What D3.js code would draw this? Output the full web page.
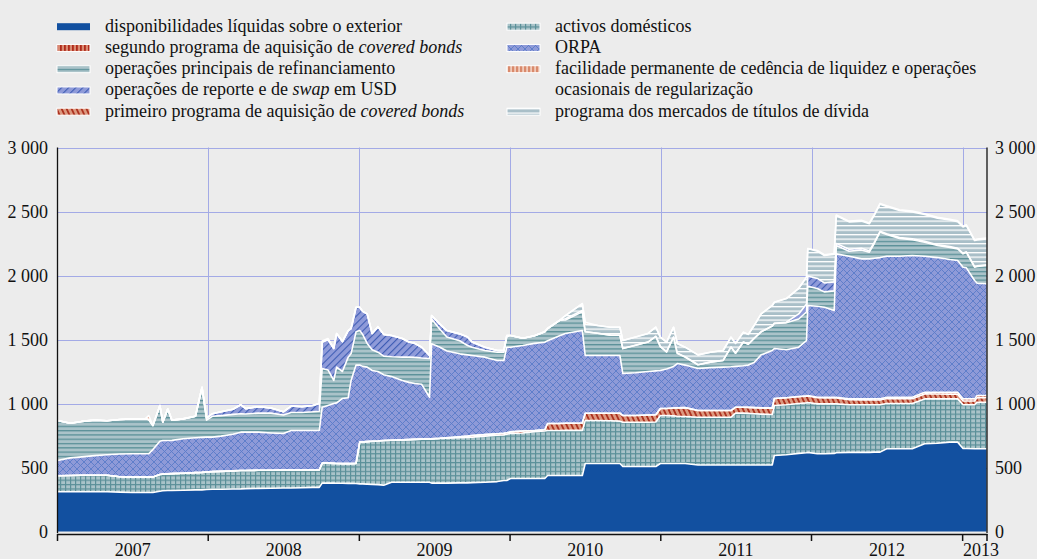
<!DOCTYPE html>
<html><head><meta charset="utf-8">
<script src="https://cdn.jsdelivr.net/npm/d3@7"></script>
<style>
body{margin:0;background:#ececec;}
svg{display:block;font-family:"Liberation Serif","Times New Roman",serif;}
</style></head><body>
<svg id="c" width="1037" height="559">
<defs>
<pattern id="pDom" width="5" height="4.4" patternUnits="userSpaceOnUse">
 <rect width="5" height="4.4" fill="#a9c3c9"/>
 <rect width="5" height="1.2" fill="#5b9099"/>
 <rect width="1.2" height="4.4" fill="#5b9099"/>
</pattern>
<pattern id="pOrpa" width="7" height="7" patternUnits="userSpaceOnUse">
 <rect width="7" height="7" fill="#8e9ad8"/>
 <path d="M0,0L7,7M7,0L0,7" stroke="#5a7bc8" stroke-width="0.9"/>
</pattern>
<pattern id="pMro" width="8" height="4.3" patternUnits="userSpaceOnUse">
 <rect width="8" height="4.3" fill="#aac3c9"/>
 <rect width="8" height="1.3" fill="#5a9098"/>
</pattern>
<pattern id="pSmp" width="8" height="4.5" patternUnits="userSpaceOnUse">
 <rect width="8" height="4.5" fill="#a9bfc8"/>
 <rect width="8" height="1.3" fill="#ffffff"/>
</pattern>
<pattern id="pUsd" width="5" height="5" patternUnits="userSpaceOnUse" patternTransform="rotate(45)">
 <rect width="5" height="5" fill="#8f9bd9"/>
 <rect width="1.1" height="5" fill="#3d5cb4"/>
</pattern>
<pattern id="pCb1" width="4.5" height="4.5" patternUnits="userSpaceOnUse" patternTransform="rotate(-25)">
 <rect width="4.5" height="4.5" fill="#dc987f"/>
 <rect width="1.8" height="4.5" fill="#ad3220"/>
</pattern>
<pattern id="pCb2" width="4" height="4" patternUnits="userSpaceOnUse">
 <rect width="4" height="4" fill="#d98a72"/>
 <rect width="1.8" height="4" fill="#b02a1a"/>
</pattern>
<pattern id="pMlf" width="4" height="4" patternUnits="userSpaceOnUse">
 <rect width="4" height="4" fill="#f0cbbb"/>
 <rect width="2.2" height="4" fill="#d98a6c"/>
</pattern>
<clipPath id="plotClip"><rect x="57.5" y="140" width="929.5" height="392"/></clipPath>
</defs>
</svg>
<script>
// ---------- data (EUR bn) ----------
const dates = ["2007-01-01","2007-02-01","2007-03-01","2007-04-01","2007-05-01","2007-06-01","2007-07-01","2007-08-01","2007-08-10","2007-08-20","2007-09-06","2007-09-13","2007-09-25","2007-10-05","2007-11-01","2007-12-01","2007-12-17","2007-12-28",
"2008-01-11","2008-02-01","2008-03-01","2008-03-20","2008-04-01","2008-05-01","2008-06-01","2008-07-01","2008-07-20","2008-08-15","2008-09-10","2008-09-26","2008-10-03","2008-10-17","2008-10-31","2008-11-07","2008-11-21","2008-12-05","2008-12-12","2008-12-24",
"2009-01-02","2009-01-09","2009-01-20","2009-02-01","2009-02-15","2009-03-01","2009-03-20","2009-04-15","2009-05-01","2009-05-15","2009-06-01","2009-06-20","2009-06-25","2009-07-15","2009-08-01","2009-09-01","2009-09-20","2009-10-01","2009-11-01","2009-12-01","2009-12-17","2009-12-24",
"2010-01-02","2010-02-01","2010-03-01","2010-03-26","2010-04-02","2010-05-01","2010-05-15","2010-06-25","2010-07-02","2010-08-01","2010-09-01","2010-09-24","2010-10-01","2010-11-01","2010-12-01","2010-12-20","2010-12-31",
"2011-01-15","2011-02-01","2011-02-10","2011-03-01","2011-04-01","2011-05-01","2011-06-01","2011-06-20","2011-07-01","2011-07-20","2011-08-01","2011-08-15","2011-09-01","2011-09-28","2011-10-03","2011-11-01","2011-12-01","2011-12-20","2011-12-23",
"2012-01-15","2012-02-01","2012-02-25","2012-03-01","2012-04-01","2012-05-01","2012-05-20","2012-06-01","2012-06-15","2012-07-01","2012-08-01","2012-09-01","2012-10-01","2012-11-01","2012-12-01","2012-12-20","2013-01-02","2013-01-10","2013-01-30","2013-02-05","2013-02-28"];

const liquidForeign = [310,310,310,310,310,308,305,305,305,305,315,318,320,320,322,325,325,328,
330,330,332,333,335,337,338,340,340,342,345,345,378,378,378,377,377,376,376,375,
372,372,370,368,366,362,385,385,385,385,385,385,378,378,378,380,380,382,385,390,398,398,
414,414,414,414,437,437,437,437,531,531,531,531,508,508,508,508,531,
531,531,531,531,520,520,520,520,520,520,520,520,520,520,594,600,610,615,618,
607,607,610,615,618,618,618,620,620,646,646,646,685,690,698,698,648,648,646,646,646];

const domesticAssets = [125,128,130,130,130,120,120,120,120,120,130,130,130,132,133,135,137,137,
138,140,142,143,142,141,140,140,140,138,135,135,156,156,154,154,153,154,154,157,
326,328,332,337,341,349,328,331,333,335,337,339,346,348,350,353,355,355,360,362,357,362,
352,356,366,371,352,352,353,353,336,336,334,331,346,346,346,348,375,
375,372,369,367,373,373,373,373,405,405,403,400,397,394,390,390,390,390,390,
390,390,387,382,372,372,372,370,370,354,354,354,351,346,338,338,342,342,344,364,364];

const coveredBonds1 = [0,0,0,0,0,0,0,0,0,0,0,0,0,0,0,0,0,0,
0,0,0,0,0,0,0,0,0,0,0,0,0,0,0,0,0,0,0,0,
0,0,0,0,0,0,0,0,0,0,0,0,0,2,5,7,10,13,12,12,13,12,
12,15,9,10,55,55,56,58,57,57,59,62,52,52,56,56,55,
55,62,66,70,52,52,52,52,46,46,47,48,49,50,55,55,53,52,51,
48,47,47,46,39,38,38,37,37,39,38,37,39,38,37,37,30,30,30,36,36];

const coveredBonds2 = [0,0,0,0,0,0,0,0,0,0,0,0,0,0,0,0,0,0,
0,0,0,0,0,0,0,0,0,0,0,0,0,0,0,0,0,0,0,0,
0,0,0,0,0,0,0,0,0,0,0,0,0,0,0,0,0,0,0,0,0,0,
0,0,0,0,0,0,0,0,0,0,0,0,0,0,0,0,0,
0,0,0,0,0,0,0,0,0,0,0,0,0,0,0,0,2,3,3,
4,5,5,6,7,8,8,9,9,10,11,12,13,14,15,15,16,16,16,16,16];

const ltro = [120,137,143,153,160,177,182,182,182,215,260,263,261,260,270,273,273,272,
269,275,286,300,299,298,292,286,309,309,309,309,437,451,468,474,509,515,650,768,
602,590,582,553,543,514,497,464,447,436,428,325,742,712,677,648,635,625,605,572,568,668,
662,668,681,684,646,686,701,722,451,451,451,451,328,334,340,343,297,
309,325,346,332,328,335,339,342,319,324,330,352,414,450,391,375,385,432,704,
711,703,678,1120,1114,1094,1094,1099,1104,1101,1101,1107,1062,1052,1037,1029,1029,1024,925,878,873];

const mro = [312,271,277,277,265,270,273,273,268,188,279,143,247,158,155,167,392,133,
163,160,155,144,142,149,155,144,141,141,146,151,302,277,180,279,211,317,210,260,
270,250,185,162,151,145,155,182,197,204,205,303,194,140,110,102,73,65,52,65,65,81,
91,57,60,81,96,120,105,146,185,174,159,158,195,215,230,269,186,
133,229,80,63,30,43,53,154,103,185,163,189,180,192,196,210,220,225,150,
138,120,153,65,40,70,52,115,198,170,140,124,110,94,95,91,104,120,104,130,143];

const usdOperations = [0,0,0,0,0,0,0,0,0,0,0,0,0,0,0,0,0,15,
20,30,40,70,42,50,40,25,50,45,50,60,206,238,250,263,234,208,196,192,
182,180,231,127,199,170,166,146,118,110,85,23,27,40,50,54,67,40,26,13,13,10,
0,0,0,0,0,0,10,10,0,0,0,0,0,0,0,0,0,
0,0,0,0,0,0,0,0,0,0,0,0,0,0,0,5,40,60,80,
79,70,70,16,15,12,10,8,7,7,7,7,7,6,6,5,5,5,5,5,5];

const smpHoldings = [0,0,0,0,0,0,0,0,0,0,0,0,0,0,0,0,0,0,
0,0,0,0,0,0,0,0,0,0,0,0,0,0,0,0,0,0,0,0,
0,0,0,0,0,0,0,0,0,0,0,0,0,0,0,0,0,0,0,0,0,0,
0,0,0,0,0,0,25,55,60,61,62,63,63,65,67,72,74,
77,77,77,77,77,77,77,77,77,77,77,100,140,160,165,185,200,210,215,
213,214,215,216,214,213,212,212,212,212,211,210,209,208,208,208,205,205,203,203,203];

const marginalLending = [0,0,0,0,0,0,0,0,30,0,0,0,0,0,0,0,0,0,
0,0,0,0,0,0,0,0,0,0,0,0,10,8,0,0,0,0,0,0,
0,0,0,0,0,0,0,0,0,0,0,0,0,0,0,0,0,0,0,0,0,0,
0,0,0,0,0,0,0,0,15,0,0,0,0,0,0,0,0,
0,0,0,0,0,0,0,0,0,0,0,0,0,0,0,0,0,0,0,
6,6,6,6,6,6,6,6,6,6,6,6,6,6,6,6,6,6,6,6,6];

const yearLabels = ["2007","2008","2009","2010","2011","2012","2013"];
const yTicks = [0,500,1000,1500,2000,2500,3000];

const seriesKeys = ["liq","dom","cb1","cb2","orpa","mro","usd","smp","mlf"];
const seriesFill = {liq:"#1250a0",dom:"url(#pDom)",cb1:"url(#pCb1)",cb2:"url(#pCb2)",orpa:"url(#pOrpa)",mro:"url(#pMro)",usd:"url(#pUsd)",smp:"url(#pSmp)",mlf:"url(#pMlf)"};

const legendCol1 = [
  {key:"liq", parts:[["disponibilidades líquidas sobre o exterior",false]]},
  {key:"cb2", parts:[["segundo programa de aquisição de ",false],["covered bonds",true]]},
  {key:"mro", parts:[["operações principais de refinanciamento",false]]},
  {key:"usd", parts:[["operações de reporte e de ",false],["swap",true],[" em USD",false]]},
  {key:"cb1", parts:[["primeiro programa de aquisição de ",false],["covered bonds",true]]}
];
const legendCol2 = [
  {key:"dom", parts:[["activos domésticos",false]]},
  {key:"orpa", parts:[["ORPA",false]]},
  {key:"mlf", parts:[["facilidade permanente de cedência de liquidez e operações",false]]},
  {key:null, parts:[["ocasionais de regularização",false]]},
  {key:"smp", parts:[["programa dos mercados de títulos de dívida",false]]}
];

// ---------- build ----------
const parse = d3.timeParse("%Y-%m-%d");
const rows = dates.map((d,i)=>({date:parse(d), liq:liquidForeign[i], dom:domesticAssets[i], cb1:coveredBonds1[i], cb2:coveredBonds2[i], orpa:ltro[i], mro:mro[i], usd:usdOperations[i], smp:smpHoldings[i], mlf:marginalLending[i]}));

const svg = d3.select("#c");
const x = d3.scaleTime().domain([new Date(2007,0,1), new Date(2013,2,1)]).range([57.5, 987]);
const y = d3.scaleLinear().domain([0,3000]).range([531.5,147.5]);

// gridlines
const grid = svg.append("g");
grid.selectAll("line.h").data(yTicks.filter(v=>v>0)).join("line")
  .attr("x1",57.5).attr("x2",987).attr("y1",d=>Math.round(y(d))+0.5).attr("y2",d=>Math.round(y(d))+0.5)
  .attr("stroke","#a3aae6").attr("stroke-width",1);
const yearStarts = yearLabels.map(s=>new Date(+s,0,1));
grid.selectAll("line.v").data(yearStarts.slice(1)).join("line")
  .attr("x1",d=>Math.round(x(d))+0.5).attr("x2",d=>Math.round(x(d))+0.5).attr("y1",147.5).attr("y2",531.5)
  .attr("stroke","#a3aae6").attr("stroke-width",1);

const stacked = d3.stack().keys(seriesKeys)(rows);
const area = d3.area().x(d=>x(d.data.date)).y0(d=>y(d[0])).y1(d=>y(d[1]));
const line = d3.line().x(d=>x(d.data.date)).y(d=>y(d[1]));
const plot = svg.append("g").attr("clip-path","url(#plotClip)");
plot.selectAll("path.a").data(stacked).join("path")
  .attr("d",area).attr("fill",d=>seriesFill[d.key]);
plot.selectAll("path.l").data(stacked).join("path")
  .attr("d",line).attr("fill","none").attr("stroke","#ffffff").attr("stroke-width",1.6).attr("stroke-linejoin","round");

// axes
const fmtLocale = d3.formatLocale({decimal:",",thousands:" ",grouping:[3],currency:["",""]});
const fmt = fmtLocale.format(",");
const axL = svg.append("g").attr("transform","translate(57.5,0)")
  .call(d3.axisLeft(y).tickValues(yTicks).tickSize(0).tickPadding(9.5).tickFormat(fmt));
const axR = svg.append("g").attr("transform","translate(987,0)")
  .call(d3.axisRight(y).tickValues(yTicks).tickSize(0).tickPadding(8).tickFormat(fmt));
[axL,axR].forEach(g=>{
  g.select(".domain").remove();
  g.selectAll("text").attr("font-family","'Liberation Serif','Times New Roman',serif").attr("font-size",18).attr("fill","#111");
});
svg.append("line").attr("x1",57.5).attr("x2",57.5).attr("y1",147.5).attr("y2",533).attr("stroke","#111").attr("stroke-width",1.3);
svg.append("line").attr("x1",987).attr("x2",987).attr("y1",147.5).attr("y2",533).attr("stroke","#111").attr("stroke-width",1.3);

// bottom axis
const bx = svg.append("g");
bx.append("line").attr("x1",57).attr("x2",987.5).attr("y1",534.5).attr("y2",534.5).attr("stroke","#111").attr("stroke-width",1.5);
bx.selectAll("line.t").data(yearStarts.concat([new Date(2013,2,1)])).join("line")
  .attr("x1",d=>x(d)).attr("x2",d=>x(d)).attr("y1",534).attr("y2",541).attr("stroke","#111").attr("stroke-width",1.5);
bx.selectAll("text").data(yearLabels).join("text")
  .attr("x",(d,i)=> i<6 ? x(new Date(+d,6,2)) : 981)
  .attr("y",556).attr("text-anchor","middle").attr("font-size",18).attr("fill","#111").text(d=>d);

// legend
function drawLegend(items, sx, tx){
  items.forEach((it,i)=>{
    const base = 31.7 + i*21.25;
    if(it.key){
      svg.append("rect").attr("x",sx).attr("y",base-8.5).attr("width",33).attr("height",7)
        .attr("fill",seriesFill[it.key])
        .attr("stroke",it.key==="liq"?"none":"#ffffff").attr("stroke-width",1);
    }
    const t = svg.append("text").attr("x",tx).attr("y",base).attr("font-size",18).attr("fill","#111");
    it.parts.forEach(p=>{ t.append("tspan").attr("font-style",p[1]?"italic":"normal").text(p[0]); });
  });
}
drawLegend(legendCol1, 57, 105);
drawLegend(legendCol2, 507, 555);
</script>
</body></html>
